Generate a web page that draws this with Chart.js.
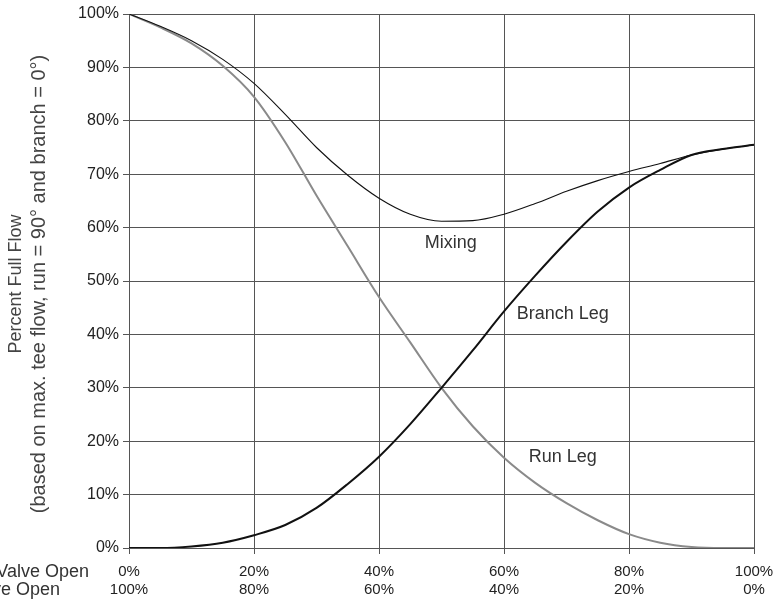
<!DOCTYPE html>
<html>
<head>
<meta charset="utf-8">
<script src="https://cdn.jsdelivr.net/npm/chart.js@4.4.0/dist/chart.umd.min.js"></script>
<style>
  html, body { margin: 0; padding: 0; background: #fff; }
</style>
</head>
<body>
<canvas id="flowChart" width="775" height="601"></canvas>
<script>
// Valve position (% open, top row of x labels)
const positions = [0, 5, 10, 15, 20, 25, 30, 35, 40, 45, 50, 55, 60, 65, 70, 75, 80, 85, 90, 95, 100];

// Percent full flow
const runLeg    = [100, 97.5, 94.5, 90.3, 84.5, 76, 66, 56.5, 47, 38.5, 30, 22.8, 16.9, 12.2, 8.4, 5.2, 2.6, 1, 0.2, 0, 0];
const branchLeg = [0, 0, 0.3, 1, 2.4, 4.3, 7.5, 12, 17.1, 23.2, 30, 37, 44.3, 51, 57.3, 63, 67.5, 70.8, 73.6, 74.7, 75.5];
const mixing    = [100, 97.7, 95, 91.5, 87, 81.2, 75, 69.8, 65.5, 62.5, 61.2, 61.3, 62.5, 64.5, 66.8, 68.8, 70.5, 72, 73.6, 74.7, 75.5];

// Tick labels for the two rows under the x axis
const topTicks    = ['0%', '20%', '40%', '60%', '80%', '100%'];
const bottomTicks = ['100%', '80%', '60%', '40%', '20%', '0%'];

const FONT = '"Liberation Sans", Arial, Helvetica, sans-serif';

const toPoints = ys => ys.map((y, i) => ({ x: positions[i], y: y }));

// Curve names, axis title and the cut-off row captions on the left
const labelPlugin = {
    id: 'curveLabels',
    afterDraw(chart) {
        const ctx = chart.ctx;
        const xs = chart.scales.x, ys = chart.scales.y;
        ctx.save();
        ctx.fillStyle = '#333';
        ctx.font = '18px ' + FONT;
        ctx.textAlign = 'center';
        ctx.textBaseline = 'middle';
        ctx.fillText('Mixing', xs.getPixelForValue(51.5), ys.getPixelForValue(57.1));
        ctx.fillText('Branch Leg', xs.getPixelForValue(69.4), ys.getPixelForValue(43.8));
        ctx.fillText('Run Leg', xs.getPixelForValue(69.4), ys.getPixelForValue(17));

        ctx.textAlign = 'right';
        ctx.fillText('Branch Valve Open', 89, 572);
        ctx.fillText('Run Valve Open', 60, 590);

        // y axis title, two lines
        ctx.fillStyle = '#444';
        ctx.textAlign = 'center';
        ctx.translate(0, 284);
        ctx.rotate(-Math.PI / 2);
        ctx.font = '18px ' + FONT;
        ctx.fillText('Percent Full Flow', 0, 16);
        ctx.font = '20px ' + FONT;
        ctx.fillText('(based on max. tee flow, run = 90\u00b0 and branch = 0\u00b0)', 0, 39);
        ctx.restore();
    }
};

const ctx = document.getElementById('flowChart').getContext('2d');
const flowChart = new Chart(ctx, {
    type: 'line',
    data: {
        datasets: [
            { label: 'Mixing', data: toPoints(mixing), borderColor: '#111', borderWidth: 1.1 },
            { label: 'Branch Leg', data: toPoints(branchLeg), borderColor: '#111', borderWidth: 2 },
            { label: 'Run Leg', data: toPoints(runLeg), borderColor: '#8a8a8a', borderWidth: 2 }
        ]
    },
    options: {
        responsive: false,
        animation: false,
        events: [],
        elements: {
            point: { radius: 0 },
            line: { cubicInterpolationMode: 'monotone', fill: false }
        },
        layout: { padding: { left: 0, right: 21, top: 14, bottom: 0 } },
        plugins: { legend: { display: false }, tooltip: { enabled: false } },
        scales: {
            x: {
                type: 'linear',
                min: 0,
                max: 100,
                afterFit: s => { s.height = 53; s.paddingLeft = 0; s.paddingRight = 0; },
                ticks: {
                    stepSize: 20,
                    maxRotation: 0,
                    padding: 9,
                    color: '#222',
                    font: { family: FONT, size: 15 },
                    callback: (v, i) => [topTicks[i], bottomTicks[i]]
                },
                grid: { color: '#555', lineWidth: 1, tickLength: 6 },
                border: { color: '#555', width: 1 }
            },
            y: {
                min: 0,
                max: 100,
                afterFit: s => { s.width = 129; s.paddingTop = 0; s.paddingBottom = 0; },
                ticks: {
                    stepSize: 10,
                    padding: 4,
                    color: '#222',
                    font: { family: FONT, size: 16 },
                    callback: v => v + '%'
                },
                grid: { color: '#555', lineWidth: 1, tickLength: 6 },
                border: { color: '#555', width: 1 }
            }
        }
    },
    plugins: [labelPlugin]
});
</script>
</body>
</html>
